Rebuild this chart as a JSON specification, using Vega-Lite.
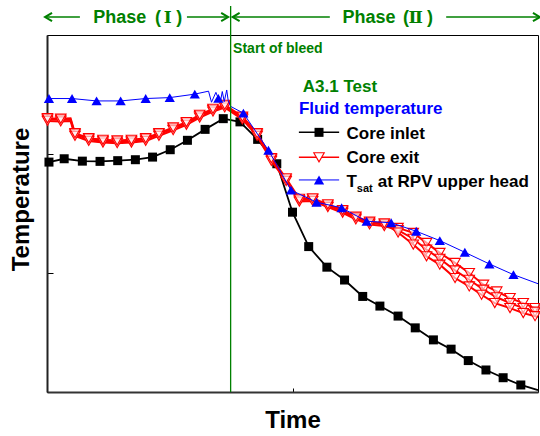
{
  "$schema": "https://vega.github.io/schema/vega-lite/v6.json",
  "width": 491,
  "height": 357,
  "autosize": {"type": "none"},
  "padding": {"left": 47, "top": 35, "right": 2, "bottom": 44},
  "background": "white",
  "config": {"view": {"stroke": "black", "strokeWidth": 1}, "font": "Liberation Sans"},
  "datasets": {
    "inlet": [
      {"t": 0, "T": 193.0, "m": 0}, {"t": 0.4, "T": 193.2, "m": 1}, {"t": 3.5, "T": 196.0, "m": 1}, {"t": 7.2, "T": 194.0, "m": 1},
      {"t": 10.8, "T": 193.8, "m": 1}, {"t": 14.4, "T": 194.4, "m": 1}, {"t": 18.0, "T": 195.2, "m": 1}, {"t": 21.5, "T": 197.4, "m": 1},
      {"t": 25.1, "T": 203.6, "m": 1}, {"t": 28.6, "T": 211.5, "m": 1}, {"t": 32.2, "T": 220.7, "m": 1}, {"t": 35.9, "T": 229.7, "m": 1},
      {"t": 39.3, "T": 227.0, "m": 1}, {"t": 42.9, "T": 212.3, "m": 1}, {"t": 46.8, "T": 191.8, "m": 1}, {"t": 50.0, "T": 151.1, "m": 1},
      {"t": 53.3, "T": 122.2, "m": 1}, {"t": 57.0, "T": 104.9, "m": 1}, {"t": 60.6, "T": 94.1, "m": 1}, {"t": 64.3, "T": 80.3, "m": 1},
      {"t": 67.8, "T": 72.2, "m": 1}, {"t": 71.5, "T": 63.8, "m": 1}, {"t": 75.0, "T": 53.9, "m": 1}, {"t": 78.7, "T": 43.8, "m": 1},
      {"t": 82.3, "T": 36.0, "m": 1}, {"t": 85.8, "T": 26.4, "m": 1}, {"t": 89.4, "T": 18.5, "m": 1}, {"t": 92.9, "T": 12.0, "m": 1},
      {"t": 96.5, "T": 5.9, "m": 1}, {"t": 100, "T": 1.5, "m": 0}
    ],
    "exit": [
      {"s": "A", "t": 0.1, "T": 229.1, "m": 1}, {"s": "A", "t": 2.8, "T": 228.7, "m": 1}, {"s": "A", "t": 4.8, "T": 229.0, "m": 0}, {"s": "A", "t": 5.7, "T": 216.5, "m": 1},
      {"s": "A", "t": 8.5, "T": 212.3, "m": 1}, {"s": "A", "t": 11.4, "T": 210.9, "m": 1}, {"s": "A", "t": 14.3, "T": 210.4, "m": 1}, {"s": "A", "t": 17.2, "T": 210.9, "m": 1},
      {"s": "A", "t": 20.1, "T": 212.3, "m": 1}, {"s": "A", "t": 22.8, "T": 216.5, "m": 1}, {"s": "A", "t": 25.7, "T": 221.3, "m": 1}, {"s": "A", "t": 28.4, "T": 225.8, "m": 1},
      {"s": "A", "t": 31.1, "T": 231.9, "m": 1}, {"s": "A", "t": 33.8, "T": 237.0, "m": 1}, {"s": "A", "t": 36.2, "T": 240.4, "m": 1}, {"s": "A", "t": 39.8, "T": 230.4, "m": 1},
      {"s": "A", "t": 42.8, "T": 216.5, "m": 1}, {"s": "A", "t": 45.7, "T": 195.5, "m": 1}, {"s": "A", "t": 48.7, "T": 178.6, "m": 1}, {"s": "A", "t": 51.4, "T": 161.3, "m": 1},
      {"s": "A", "t": 54.1, "T": 161.8, "m": 1}, {"s": "A", "t": 57.2, "T": 156.7, "m": 1}, {"s": "A", "t": 60.2, "T": 151.9, "m": 1}, {"s": "A", "t": 62.9, "T": 146.3, "m": 1},
      {"s": "A", "t": 65.7, "T": 142.1, "m": 1}, {"s": "A", "t": 68.7, "T": 140.7, "m": 1},
      {"s": "A", "t": 71.5, "T": 137.9, "m": 1}, {"s": "A", "t": 74.6, "T": 133.7, "m": 1}, {"s": "A", "t": 77.3, "T": 125.3, "m": 1}, {"s": "A", "t": 80.0, "T": 116.9, "m": 1},
      {"s": "A", "t": 83.1, "T": 108.5, "m": 1}, {"s": "A", "t": 86.0, "T": 100.0, "m": 1}, {"s": "A", "t": 88.9, "T": 90.2, "m": 1}, {"s": "A", "t": 91.6, "T": 84.5, "m": 1},
      {"s": "A", "t": 94.3, "T": 78.9, "m": 1}, {"s": "A", "t": 97.0, "T": 74.7, "m": 1}, {"s": "A", "t": 99.4, "T": 70.5, "m": 1}, {"s": "A", "t": 100, "T": 69.5, "m": 0},

      {"s": "B", "t": 0.1, "T": 227.8, "m": 1}, {"s": "B", "t": 2.8, "T": 227.4, "m": 1}, {"s": "B", "t": 4.8, "T": 227.7, "m": 0}, {"s": "B", "t": 5.7, "T": 215.2, "m": 1},
      {"s": "B", "t": 8.5, "T": 211.0, "m": 1}, {"s": "B", "t": 11.4, "T": 209.6, "m": 1}, {"s": "B", "t": 14.3, "T": 209.1, "m": 1}, {"s": "B", "t": 17.2, "T": 209.6, "m": 1},
      {"s": "B", "t": 20.1, "T": 211.0, "m": 1}, {"s": "B", "t": 22.8, "T": 215.2, "m": 1}, {"s": "B", "t": 25.7, "T": 220.0, "m": 1}, {"s": "B", "t": 28.4, "T": 224.5, "m": 1},
      {"s": "B", "t": 31.1, "T": 230.6, "m": 1}, {"s": "B", "t": 33.8, "T": 235.7, "m": 1}, {"s": "B", "t": 36.2, "T": 239.1, "m": 1}, {"s": "B", "t": 39.8, "T": 229.1, "m": 1},
      {"s": "B", "t": 42.8, "T": 215.2, "m": 1}, {"s": "B", "t": 45.7, "T": 194.2, "m": 1}, {"s": "B", "t": 48.7, "T": 177.3, "m": 1}, {"s": "B", "t": 51.4, "T": 160.0, "m": 1},
      {"s": "B", "t": 54.1, "T": 160.5, "m": 1}, {"s": "B", "t": 57.2, "T": 155.4, "m": 1}, {"s": "B", "t": 60.2, "T": 150.6, "m": 1}, {"s": "B", "t": 62.9, "T": 145.0, "m": 1},
      {"s": "B", "t": 65.7, "T": 140.8, "m": 1}, {"s": "B", "t": 68.7, "T": 139.4, "m": 1},
      {"s": "B", "t": 71.5, "T": 136.0, "m": 1}, {"s": "B", "t": 74.6, "T": 128.8, "m": 1}, {"s": "B", "t": 77.3, "T": 119.6, "m": 1}, {"s": "B", "t": 80.0, "T": 112.0, "m": 1},
      {"s": "B", "t": 83.1, "T": 102.2, "m": 1}, {"s": "B", "t": 86.0, "T": 94.3, "m": 1}, {"s": "B", "t": 88.9, "T": 86.0, "m": 1}, {"s": "B", "t": 91.6, "T": 79.6, "m": 1},
      {"s": "B", "t": 94.3, "T": 74.7, "m": 1}, {"s": "B", "t": 97.0, "T": 70.5, "m": 1}, {"s": "B", "t": 99.4, "T": 67.5, "m": 1}, {"s": "B", "t": 100, "T": 66.8, "m": 0},

      {"s": "C", "t": 0.1, "T": 230.1, "m": 1}, {"s": "C", "t": 2.8, "T": 229.7, "m": 1}, {"s": "C", "t": 4.8, "T": 230.0, "m": 0}, {"s": "C", "t": 5.7, "T": 217.5, "m": 1},
      {"s": "C", "t": 8.5, "T": 213.3, "m": 1}, {"s": "C", "t": 11.4, "T": 211.9, "m": 1}, {"s": "C", "t": 14.3, "T": 211.4, "m": 1}, {"s": "C", "t": 17.2, "T": 211.9, "m": 1},
      {"s": "C", "t": 20.1, "T": 213.3, "m": 1}, {"s": "C", "t": 22.8, "T": 217.5, "m": 1}, {"s": "C", "t": 25.7, "T": 222.3, "m": 1}, {"s": "C", "t": 28.4, "T": 226.8, "m": 1},
      {"s": "C", "t": 31.1, "T": 232.9, "m": 1}, {"s": "C", "t": 33.8, "T": 238.0, "m": 1}, {"s": "C", "t": 36.2, "T": 241.4, "m": 1}, {"s": "C", "t": 39.8, "T": 231.4, "m": 1},
      {"s": "C", "t": 42.8, "T": 217.5, "m": 1}, {"s": "C", "t": 45.7, "T": 196.5, "m": 1}, {"s": "C", "t": 48.7, "T": 179.6, "m": 1}, {"s": "C", "t": 51.4, "T": 162.3, "m": 1},
      {"s": "C", "t": 54.1, "T": 162.8, "m": 1}, {"s": "C", "t": 57.2, "T": 157.7, "m": 1}, {"s": "C", "t": 60.2, "T": 152.9, "m": 1}, {"s": "C", "t": 62.9, "T": 147.3, "m": 1},
      {"s": "C", "t": 65.7, "T": 143.1, "m": 1}, {"s": "C", "t": 68.7, "T": 141.7, "m": 1},
      {"s": "C", "t": 71.5, "T": 134.0, "m": 1}, {"s": "C", "t": 74.6, "T": 123.9, "m": 1}, {"s": "C", "t": 77.3, "T": 114.0, "m": 1}, {"s": "C", "t": 80.0, "T": 107.0, "m": 1},
      {"s": "C", "t": 83.1, "T": 95.8, "m": 1}, {"s": "C", "t": 86.0, "T": 88.7, "m": 1}, {"s": "C", "t": 88.5, "T": 81.7, "m": 1}, {"s": "C", "t": 91.2, "T": 74.7, "m": 1},
      {"s": "C", "t": 94.3, "T": 70.5, "m": 1}, {"s": "C", "t": 97.0, "T": 66.3, "m": 1}, {"s": "C", "t": 99.4, "T": 63.7, "m": 1}, {"s": "C", "t": 100, "T": 63.3, "m": 0}
    ],
    "tsat": [
      {"t": 0, "T": 246.6, "m": 0}, {"t": 0.4, "T": 246.6, "m": 1}, {"t": 5.1, "T": 246.6, "m": 1}, {"t": 10.1, "T": 244.6, "m": 1},
      {"t": 15.0, "T": 244.6, "m": 1}, {"t": 20.1, "T": 246.6, "m": 1}, {"t": 25.0, "T": 247.4, "m": 1}, {"t": 30.1, "T": 250.3, "m": 1},
      {"t": 32.9, "T": 252.8, "m": 0}, {"t": 33.5, "T": 243.5, "m": 0}, {"t": 34.4, "T": 251.8, "m": 0}, {"t": 34.9, "T": 246.7, "m": 1},
      {"t": 35.3, "T": 243.5, "m": 0}, {"t": 35.7, "T": 252.5, "m": 0}, {"t": 36.1, "T": 244.0, "m": 0}, {"t": 36.6, "T": 253.8, "m": 0},
      {"t": 36.9, "T": 245.0, "m": 0},
      {"t": 37.4, "T": 240.0, "m": 0}, {"t": 40.0, "T": 234.3, "m": 1}, {"t": 45.1, "T": 203.1, "m": 1}, {"t": 49.7, "T": 169.6, "m": 1},
      {"t": 54.9, "T": 159.5, "m": 1}, {"t": 60.0, "T": 154.8, "m": 1}, {"t": 65.1, "T": 143.5, "m": 1}, {"t": 70.1, "T": 142.2, "m": 1},
      {"t": 75.2, "T": 135.1, "m": 1}, {"t": 80.0, "T": 127.2, "m": 1}, {"t": 85.1, "T": 117.4, "m": 1}, {"t": 90.1, "T": 107.6, "m": 1},
      {"t": 95.0, "T": 98.6, "m": 1}, {"t": 100, "T": 91.0, "m": 0}
    ]
  },
  "encoding": {
    "x": {
      "field": "t", "type": "quantitative",
      "scale": {"domain": [0, 100], "nice": false, "zero": false},
      "axis": {
        "title": "Time", "labels": false, "grid": false, "values": [50], "tickSize": -4,
        "tickColor": "black", "tickWidth": 1, "domainColor": "#333", "domainWidth": 2,
        "titleFont": "Liberation Sans", "titleFontSize": 24, "titleFontWeight": "bold", "titleColor": "black",
        "titleY": 35, "titleBaseline": "alphabetic"
      }
    },
    "y": {
      "field": "T", "type": "quantitative",
      "scale": {"domain": [0, 300], "nice": false},
      "axis": {
        "title": "Temperature", "labels": false, "grid": false, "values": [100, 200], "tickSize": -6,
        "tickColor": "black", "tickWidth": 1, "domainColor": "#222", "domainWidth": 2,
        "titleFont": "Liberation Sans", "titleFontSize": 24, "titleFontWeight": "bold", "titleColor": "black",
        "titleAngle": 270, "titleX": -19, "titleY": 164, "titleAlign": "center", "titleBaseline": "alphabetic"
      }
    }
  },
  "layer": [
    {
      "data": {"name": "inlet"},
      "mark": {"type": "line", "color": "black", "strokeWidth": 1.8}
    },
    {
      "data": {"name": "inlet"},
      "transform": [{"filter": "datum.m == 1"}],
      "mark": {"type": "point", "shape": "square", "filled": true, "color": "black", "size": 81, "opacity": 1}
    },
    {
      "data": {"name": "exit"},
      "mark": {"type": "line", "color": "#ff0000", "strokeWidth": 2},
      "encoding": {"detail": {"field": "s"}}
    },
    {
      "data": {"name": "exit"},
      "transform": [{"filter": "datum.m == 1"}],
      "mark": {"type": "point", "shape": "triangle-down", "filled": false, "fill": "white", "fillOpacity": 0.6, "stroke": "#ff0000", "strokeWidth": 1.1, "size": 110, "opacity": 1}
    },
    {
      "data": {"name": "tsat"},
      "mark": {"type": "line", "color": "#0000ff", "strokeWidth": 1}
    },
    {
      "data": {"name": "tsat"},
      "transform": [{"filter": "datum.m == 1"}],
      "mark": {"type": "point", "shape": "triangle-up", "filled": true, "color": "#0000ff", "size": 105, "opacity": 1}
    },
    {
      "data": {"values": [{"t": 37.4, "T": 0, "T2": 324.4}]},
      "mark": {"type": "rule", "color": "#008000", "strokeWidth": 1.3},
      "encoding": {"y2": {"field": "T2"}}
    },
    {
      "data": {"values": [
        {"t": -0.4, "t2": 6.7, "T": 315.1},
        {"t": 28.5, "t2": 36.9, "T": 315.1},
        {"t": 37.8, "t2": 57.6, "T": 315.1},
        {"t": 81.3, "t2": 100.4, "T": 315.1}
      ]},
      "mark": {"type": "rule", "color": "#008000", "strokeWidth": 1.5},
      "encoding": {"x2": {"field": "t2"}}
    },
    {
      "data": {"values": [{"t": -0.4, "T": 315.1}, {"t": 37.8, "T": 315.1}]},
      "mark": {"type": "point", "shape": "M2,-1.2L0,0L2,1.2", "filled": false, "stroke": "#008000", "strokeWidth": 2, "size": 49, "opacity": 1}
    },
    {
      "data": {"values": [{"t": 36.9, "T": 315.1}, {"t": 100.4, "T": 315.1}]},
      "mark": {"type": "point", "shape": "M-2,-1.2L0,0L-2,1.2", "filled": false, "stroke": "#008000", "strokeWidth": 2, "size": 49, "opacity": 1}
    },
    {
      "data": {"values": [
        {"t": 9.4, "T": 310.1, "label": "Phase"}, {"t": 22.0, "T": 310.1, "label": "("}, {"t": 26.3, "T": 310.1, "label": ")"},
        {"t": 60.2, "T": 310.1, "label": "Phase"}, {"t": 72.5, "T": 310.1, "label": "("}, {"t": 77.4, "T": 310.1, "label": ")"}
      ]},
      "mark": {"type": "text", "align": "left", "baseline": "alphabetic", "font": "Liberation Sans", "fontSize": 18, "fontWeight": "bold", "color": "#008000"},
      "encoding": {"text": {"field": "label"}}
    },
    {
      "data": {"values": [{"t": 24.6, "T": 310.1, "label": "Ⅰ"}, {"t": 75.1, "T": 310.1, "label": "Ⅱ"}]},
      "mark": {"type": "text", "align": "center", "baseline": "alphabetic", "font": "DejaVu Serif", "fontSize": 17, "fontWeight": "bold", "color": "#008000"},
      "encoding": {"text": {"field": "label"}}
    },
    {
      "data": {"values": [{"t": 37.9, "T": 284.6, "label": "Start of bleed"}]},
      "mark": {"type": "text", "align": "left", "baseline": "alphabetic", "font": "Liberation Sans", "fontSize": 14, "fontWeight": "bold", "color": "#008000"},
      "encoding": {"text": {"field": "label"}}
    },
    {
      "data": {"values": [{"t": 52.1, "T": 252.1, "label": "A3.1 Test"}]},
      "mark": {"type": "text", "align": "left", "baseline": "alphabetic", "font": "Liberation Sans", "fontSize": 17, "fontWeight": "bold", "color": "#008000"},
      "encoding": {"text": {"field": "label"}}
    },
    {
      "data": {"values": [{"t": 51.3, "T": 233.6, "label": "Fluid temperature"}]},
      "mark": {"type": "text", "align": "left", "baseline": "alphabetic", "font": "Liberation Sans", "fontSize": 17, "fontWeight": "bold", "color": "#0000ff"},
      "encoding": {"text": {"field": "label"}}
    },
    {
      "data": {"values": [
        {"t": 61.0, "T": 212.6, "label": "Core inlet"},
        {"t": 61.0, "T": 192.2, "label": "Core exit"},
        {"t": 61.0, "T": 172.5, "label": "T"},
        {"t": 67.35, "T": 172.5, "label": "at RPV upper head"}
      ]},
      "mark": {"type": "text", "align": "left", "baseline": "alphabetic", "font": "Liberation Sans", "fontSize": 17, "fontWeight": "bold", "color": "black"},
      "encoding": {"text": {"field": "label"}}
    },
    {
      "data": {"values": [{"t": 63.1, "T": 167.8, "label": "sat"}]},
      "mark": {"type": "text", "align": "left", "baseline": "alphabetic", "font": "Liberation Sans", "fontSize": 11, "fontWeight": "bold", "color": "black"},
      "encoding": {"text": {"field": "label"}}
    },
    {
      "data": {"values": [{"t": 51.3, "t2": 59.5, "T": 218.2}]},
      "mark": {"type": "rule", "color": "black", "strokeWidth": 1.5},
      "encoding": {"x2": {"field": "t2"}}
    },
    {
      "data": {"values": [{"t": 55.4, "T": 218.2}]},
      "mark": {"type": "point", "shape": "square", "filled": true, "color": "black", "size": 81, "opacity": 1}
    },
    {
      "data": {"values": [{"t": 51.3, "t2": 59.5, "T": 197.2}]},
      "mark": {"type": "rule", "color": "#ff0000", "strokeWidth": 1.5},
      "encoding": {"x2": {"field": "t2"}}
    },
    {
      "data": {"values": [{"t": 55.4, "T": 197.2}]},
      "mark": {"type": "point", "shape": "triangle-down", "filled": false, "fill": "white", "stroke": "#ff0000", "strokeWidth": 1.1, "size": 110, "opacity": 1}
    },
    {
      "data": {"values": [{"t": 51.3, "t2": 59.5, "T": 178.2}]},
      "mark": {"type": "rule", "color": "#0000ff", "strokeWidth": 1},
      "encoding": {"x2": {"field": "t2"}}
    },
    {
      "data": {"values": [{"t": 55.4, "T": 178.2}]},
      "mark": {"type": "point", "shape": "triangle-up", "filled": true, "color": "#0000ff", "size": 105, "opacity": 1}
    }
  ]
}
